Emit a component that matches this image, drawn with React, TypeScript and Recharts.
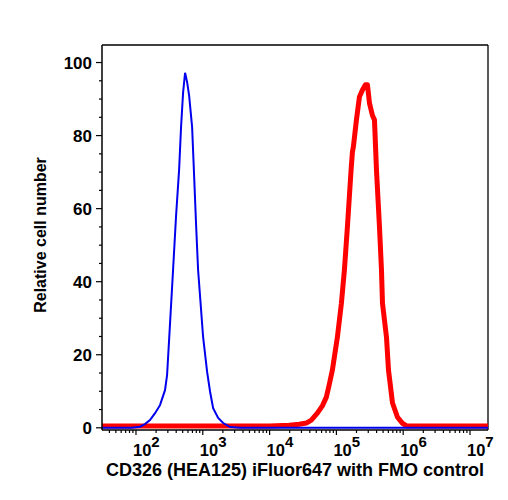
import { LineChart, Line, XAxis, YAxis, ReferenceLine, Label } from "recharts";

// FMO control histogram (blue)
const fmoIntensity = [
  31, 87, 115, 136, 162, 193, 229, 272, 292, 313, 359, 398, 442, 473, 507, 543,
  582, 624, 692, 741, 794, 851, 1012, 1161, 1288, 1429, 1698, 2018, 2570, 3631,
  18600000,
];
const fmoCount = [
  0, 0, 0.3, 1.0, 2.1, 4.0, 6.2, 10.3, 14.4, 24, 43.2, 58, 70.6, 82.4, 91.7, 97.2,
  94.7, 91, 82.4, 69.2, 55.5, 43.2, 24.8, 15.3, 9.8, 5.4, 2.7, 1.3, 0.2, 0, 0,
];

// CD326 stained histogram (red)
const cd326Intensity = [
  31, 10000, 19724, 27861, 35481, 42170, 51880, 61660, 70795, 78524, 87096,
  103514, 118850, 131826, 146220, 165959, 173780, 179887, 199526, 221309,
  245471, 272270, 291743, 312608, 346737, 371535, 398107, 441570, 473151,
  489779, 562341, 602560, 691831, 822243, 977237, 1122018, 18600000,
];
const cd326Count = [
  0.5, 0.5, 0.7, 1.0, 1.3, 2.1, 4.0, 6.0, 8.4, 12, 15.8, 24.8, 34.1, 43.2, 55,
  70.6, 75.5, 77, 84.3, 90.6, 92.5, 93.9, 93.9, 88.9, 85.5, 84.3, 70.6, 55,
  43.2, 34.1, 24.8, 15.8, 6.8, 2.9, 1.2, 0.5, 0.5,
];

const xMin = 31;
const xMax = 18600000;
const yMin = -0.6;
const yMax = 104.8;

const decades = [100, 1000, 10000, 100000, 1000000, 10000000];
const xTicks: number[] = [];
for (let d = 10; d <= xMax; d *= 10) {
  for (let m = 1; m <= 9; m++) {
    const v = d * m;
    if (v >= xMin && v <= xMax) xTicks.push(v);
  }
}
const yTicks = [0, 5, 10, 15, 20, 25, 30, 35, 40, 45, 50, 55, 60, 65, 70, 75, 80, 85, 90, 95, 100];
const yLabels = [0, 20, 40, 60, 80, 100];

const fmoData = fmoIntensity.map((x, i) => ({ x, y: fmoCount[i] }));
const cd326Data = cd326Intensity.map((x, i) => ({ x, y: cd326Count[i] }));

const FONT = "'Liberation Sans', Arial, Helvetica, sans-serif";

const XTick = ({ x, y, payload }: any) => {
  const v = payload.value;
  const major = decades.some((d) => Math.abs(d - v) < 1e-6 * d);
  const exp = Math.round(Math.log10(v));
  return (
    <g>
      <line x1={x} x2={x} y1={y} y2={y + (major ? 5 : 3)} stroke="#000" strokeWidth={1.2} />
      {major && (
        <text x={x - 3} y={y + 26} textAnchor="start" fontFamily={FONT} fontWeight="bold" fontSize={16.5} fill="#000">
          <tspan>10</tspan>
          <tspan dy={-9} fontSize={15}>{exp}</tspan>
        </text>
      )}
    </g>
  );
};

const YTick = ({ x, y, payload }: any) => {
  const v = payload.value;
  const major = yLabels.includes(v);
  return (
    <g>
      <line x1={x} x2={x - (major ? 6 : 3)} y1={y} y2={y} stroke="#000" strokeWidth={1.2} />
      {major && (
        <text x={x - 10} y={y + 6} textAnchor="end" fontFamily={FONT} fontWeight="bold" fontSize={17} fill="#000">
          {v}
        </text>
      )}
    </g>
  );
};

// rotated y-axis title, centred beside the plot
const YTitle = () => (
  <text
    transform="translate(40, 235) rotate(-90)"
    textAnchor="middle"
    dominantBaseline="central"
    fontFamily={FONT}
    fontWeight="bold"
    fontSize={16}
    fill="#000"
  >
    Relative cell number
  </text>
);

export default function App() {
  return (
    <div style={{ position: "absolute", left: 0, top: 0, background: "#fff" }}>
      <LineChart width={508} height={500} margin={{ top: 45, right: 20, bottom: 40, left: 30 }}>
        <XAxis
          dataKey="x"
          type="number"
          scale="log"
          domain={[xMin, xMax]}
          allowDataOverflow
          ticks={xTicks}
          interval={0}
          tick={<XTick />}
          tickSize={0}
          tickMargin={0}
          height={30}
          axisLine={{ stroke: "#000", strokeWidth: 1.5 }}
        >
          <Label
            value="CD326 (HEA125) iFluor647 with FMO control"
            position="bottom"
            offset={3}
            style={{ fontFamily: FONT, fontWeight: "bold", fontSize: 18, fill: "#000" }}
          />
        </XAxis>
        <YAxis
          type="number"
          domain={[yMin, yMax]}
          allowDataOverflow
          ticks={yTicks}
          interval={0}
          tick={<YTick />}
          tickSize={0}
          tickMargin={0}
          width={72}
          axisLine={{ stroke: "#000", strokeWidth: 1.5 }}
        >
          <Label content={<YTitle />} />
        </YAxis>
        <ReferenceLine y={yMax} stroke="#000" strokeWidth={1.3} />
        <ReferenceLine x={xMax} stroke="#000" strokeWidth={1.3} />
        <Line
          data={cd326Data}
          dataKey="y"
          type="linear"
          stroke="#ff0000"
          strokeWidth={5}
          strokeLinejoin="round"
          dot={false}
          activeDot={false}
          isAnimationActive={false}
        />
        <Line
          data={fmoData}
          dataKey="y"
          type="linear"
          stroke="#0000ee"
          strokeWidth={2}
          dot={false}
          activeDot={false}
          isAnimationActive={false}
        />
      </LineChart>
    </div>
  );
}
